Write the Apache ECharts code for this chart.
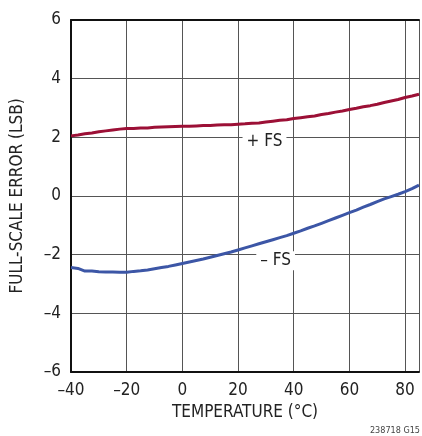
<!DOCTYPE html>
<html>
<head>
<meta charset="utf-8">
<script src="https://cdn.jsdelivr.net/npm/echarts@6/dist/echarts.min.js"></script>
<style>
html,body{margin:0;padding:0;background:#fff;}
#chart{width:422px;height:436px;}
</style>
</head>
<body>
<div id="chart"></div>
<script>
var temperatures = [-40,-37.5,-35,-32.5,-30,-27.5,-25,-22.5,-20,-17.5,-15,-12.5,-10,-7.5,-5,-2.5,0,2.5,5,7.5,10,12.5,15,17.5,20,22.5,25,27.5,30,32.5,35,37.5,40,42.5,45,47.5,50,52.5,55,57.5,60,62.5,65,67.5,70,72.5,75,77.5,80,82.5,85];
var plusFS = [2.05,2.08,2.12,2.15,2.19,2.22,2.25,2.28,2.30,2.30,2.32,2.32,2.34,2.35,2.36,2.37,2.38,2.38,2.39,2.40,2.40,2.42,2.43,2.43,2.45,2.46,2.48,2.49,2.52,2.55,2.58,2.60,2.64,2.67,2.70,2.73,2.78,2.81,2.86,2.90,2.95,2.99,3.04,3.08,3.13,3.19,3.24,3.29,3.36,3.41,3.47];
var minusFS = [-2.44,-2.47,-2.56,-2.56,-2.58,-2.59,-2.59,-2.60,-2.60,-2.57,-2.55,-2.52,-2.48,-2.44,-2.40,-2.35,-2.30,-2.25,-2.20,-2.15,-2.09,-2.03,-1.97,-1.91,-1.84,-1.77,-1.70,-1.63,-1.56,-1.49,-1.42,-1.35,-1.27,-1.19,-1.10,-1.02,-0.93,-0.84,-0.75,-0.66,-0.57,-0.48,-0.38,-0.29,-0.19,-0.10,-0.02,0.06,0.15,0.25,0.37];
var seriesNames = ['+ FS', '\u2013 FS'];
var xTitle = 'TEMPERATURE (\u00B0C)';
var yTitle = 'FULL-SCALE ERROR (LSB)';
var footnote = '238718 G15';

function pairs(ys){ return temperatures.map(function(t,i){ return [t, ys[i]]; }); }
var FONT = '"DejaVu Sans Condensed","Liberation Sans Narrow","Liberation Sans",Arial,sans-serif';
function fmt(v){ return String(v).replace('-', '\u2013'); }

var chart = echarts.init(document.getElementById('chart'), null, {renderer:'canvas'});
chart.setOption({
  animation:false,
  grid:{left:71, top:20, right:0, bottom:64},
  xAxis:[{
    type:'value', min:-40, max:85, interval:20,
    name:xTitle, nameLocation:'middle', nameGap:30,
    nameTextStyle:{fontFamily:FONT, fontSize:17, color:'#222'},
    axisLine:{show:true, onZero:false, lineStyle:{color:'#111', width:2}},
    axisTick:{show:false},
    axisLabel:{fontFamily:FONT, fontSize:17, color:'#222', margin:10,
      formatter:function(v){ return (v % 20 === 0) ? fmt(v) : ''; }},
    splitLine:{show:true, lineStyle:{color:'#555', width:1}}
  },{
    type:'value', position:'top', min:-40, max:85,
    axisLine:{show:true, onZero:false, lineStyle:{color:'#111', width:2}},
    axisTick:{show:false}, axisLabel:{show:false}, splitLine:{show:false}
  }],
  yAxis:{
    type:'value', min:-6, max:6, interval:2,
    name:yTitle, nameLocation:'middle', nameGap:45, nameRotate:90,
    nameTextStyle:{fontFamily:FONT, fontSize:17, color:'#222'},
    axisLine:{show:true, onZero:false, lineStyle:{color:'#111', width:2}},
    axisTick:{show:false},
    axisLabel:{fontFamily:FONT, fontSize:17, color:'#222', margin:10, formatter:fmt},
    splitLine:{show:true, lineStyle:{color:'#555', width:1}}
  },
  series:[{
    name:seriesNames[0], type:'line', data:pairs(plusFS), showSymbol:false,
    lineStyle:{color:'#9c1036', width:3}, z:5,
    markPoint:{symbol:'rect', symbolSize:0, silent:true,
      label:{show:true, formatter:seriesNames[0], fontFamily:FONT, fontSize:17, color:'#222',
        backgroundColor:'#fff', padding:[1,4,1,4], offset:[0,4]},
      data:[{coord:[29.5,2]}]}
  },{
    name:seriesNames[1], type:'line', data:pairs(minusFS), showSymbol:false,
    lineStyle:{color:'#3c56a6', width:3}, z:5,
    markPoint:{symbol:'rect', symbolSize:0, silent:true,
      label:{show:true, formatter:seriesNames[1], fontFamily:FONT, fontSize:17, color:'#222',
        backgroundColor:'#fff', padding:[1,4,1,4], offset:[0,6]},
      data:[{coord:[33.5,-2]}]}
  }],
  graphic:[{type:'text', right:2, bottom:1,
    style:{text:footnote, fontFamily:FONT, fontSize:9, fill:'#444'}}]
});
</script>
</body>
</html>
